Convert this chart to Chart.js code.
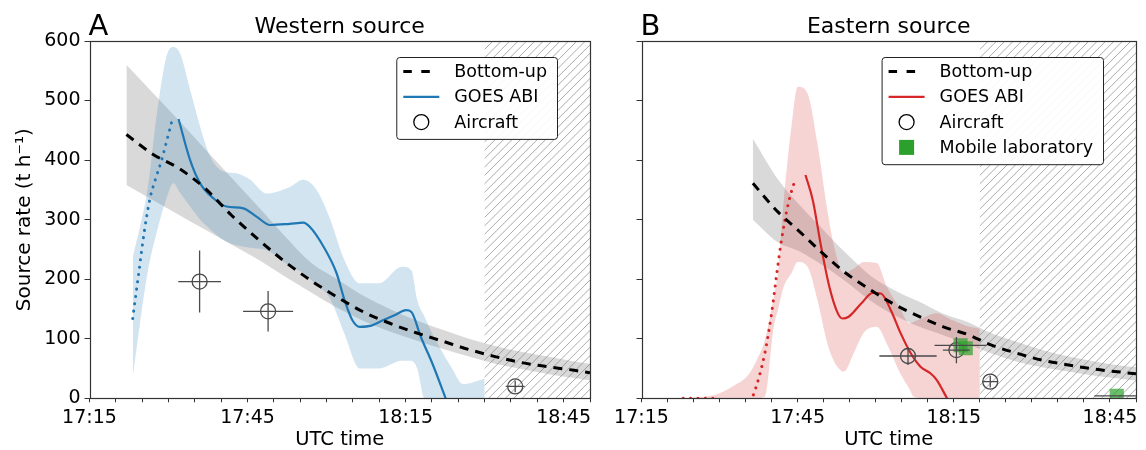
<!DOCTYPE html>
<html>
<head>
<meta charset="utf-8">
<script src="https://cdn.jsdelivr.net/npm/chart.js@4.4.1/dist/chart.umd.min.js"></script>
<style>
  html, body { margin: 0; padding: 0; background: #fff; }
  #wrap { position: relative; width: 1146px; height: 450px; }
  #boxA { position: absolute; left: 0; top: 0; }
  #boxB { position: absolute; left: 600px; top: 0; }
</style>
</head>
<body>
<div id="wrap">
  <div id="boxA"><canvas id="chartA" width="600" height="450"></canvas></div>
  <div id="boxB"><canvas id="chartB" width="546" height="450"></canvas></div>
</div>
<script>
// times are minutes after 17:15 UTC, rates in t/h
const xTickLabels = ['17:15', '17:45', '18:15', '18:45'];

// ---- A: western source
const bottomUpTimesA = [7, 12, 17, 22, 27, 32, 37, 42, 47, 52, 57, 62, 67, 72, 77, 82, 87, 92, 95];
const bottomUpA   = [443, 410, 386, 352, 307, 267, 230, 198, 170, 145, 126, 110, 96, 82, 70, 60, 53, 47, 43];
const bottomUpHiA = [560, 513, 466, 418, 370, 322, 273, 228, 200, 172, 150, 131, 115, 100, 88, 78, 70, 62, 58];
const bottomUpLoA = [358, 333, 308, 283, 258, 233, 205, 178, 152, 130, 112, 97, 83, 70, 58, 49, 41, 34, 30];

const goesBandTimesA = [8.2, 9.5, 11, 12.8, 14.6, 15.9, 17.2, 19.1, 21, 22.9, 25.4, 27.9, 30.5, 33.6, 38, 40.6, 43.1, 45.5, 48.4, 51.3, 54.9, 59.3, 61.1, 62.2, 63.6, 65.1, 68.7, 70.9, 75];
const goesHiA = [237, 285, 350, 479, 574, 590, 579, 518, 456, 406, 381, 378, 367, 344, 355, 367, 350, 305, 232, 193, 193, 221, 215, 165, 137, 108, 52, 24, 33];
const goesLoA = [35, 120, 210, 280, 335, 361, 345, 322, 300, 284, 266, 257, 253, 249, 222, 210, 190, 170, 108, 50, 50, 63, 63, 50, 0, 0, 0, 0, 0];

const goesTimesA = [16.9, 19.1, 21, 23.5, 26, 29.2, 31.7, 34.3, 38, 40.6, 41.8, 44.4, 46.9, 48.4, 49.9, 51.3, 53.5, 55.7, 58, 60.1, 61.1, 62.9, 65.1, 67.6];
const goesA = [469, 400, 361, 336, 322, 319, 305, 291, 293, 295, 288, 255, 210, 165, 131, 120, 122, 131, 140, 148, 145, 103, 58, 0];
const goesEarlyTimesA = [8.2, 9.3, 10.4, 11.5, 12.6, 13.7, 14.8, 15.9];
const goesEarlyA = [134, 207, 280, 336, 370, 400, 437, 474];

const aircraftTimesA = [20.9, 33.9, 80.8];
const aircraftA = [196, 146, 20];
const aircraftTimeErrA = [4.05, 4.75, 1.8];
const aircraftErrA = [52, 34, 10];

// ---- B: eastern source
const bottomUpTimesB = [21.4, 26.2, 30, 34.5, 39, 44, 48.5, 53.4, 58, 63, 67, 72, 77, 82, 87, 92, 95];
const bottomUpB   = [361, 313, 283, 246, 212, 182, 158, 137, 120, 106, 90, 76, 64, 56, 49, 44, 41];
const bottomUpHiB = [436, 368, 328, 287, 246, 206, 182, 162, 142, 127, 110, 95, 81, 70, 62, 55, 52];
const bottomUpLoB = [300, 262, 248, 225, 198, 164, 140, 120, 106, 90, 76, 62, 52, 45, 38, 33, 30];

const goesBandTimesB = [7.9, 11, 14.2, 17.5, 20.5, 22.2, 23.7, 25.4, 26.2, 27.3, 28.8, 30, 31.9, 33.8, 35.7, 37, 38.9, 40.8, 42.7, 45.2, 47.1, 49.7, 51.5, 52.2, 54, 56.6, 59.8, 63, 65];
const goesHiB = [0, 2, 6, 20, 39, 65, 98, 170, 210, 330, 456, 523, 512, 428, 316, 255, 210, 218, 229, 227, 188, 150, 126, 128, 135, 143, 131, 120, 117];
const goesLoB = [0, 0, 0, 0, 0, 0, 3, 120, 148, 187, 210, 229, 221, 165, 92, 62, 45, 76, 110, 120, 92, 42, 15, 3, 0, 0, 0, 0, 0];

const goesTimesB = [31.5, 32.9, 34.5, 36.1, 37.7, 38.6, 39.8, 42.3, 44.4, 46, 47.9, 49.8, 51.7, 53.6, 55.5, 56.7, 58.7];
const goesB = [375, 333, 255, 187, 143, 134, 137, 160, 177, 176, 148, 109, 76, 53, 42, 31, 0];
const goesEarlyTimesB = [8, 10, 12, 14.5, 17, 19.5, 21.5, 23.7, 25, 26, 26.9, 28.2, 29.5];
const goesEarlyB = [0, 0, 0, 0, -25, -25, 6, 76, 143, 210, 266, 327, 367];

const aircraftTimesB = [51.2, 60.5, 67];
const aircraftB = [71, 81, 28];
const aircraftTimeErrB = [5.5, 2.6, 1.5];
const aircraftErrB = [15, 22, 10];

const mobileTimesB = [61.3, 62.3, 91.3];
const mobileB = [89, 84, 4];
const mobileTimeErrB = [5, 0, 4.3];

const FONT = "'DejaVu Sans', sans-serif";
Chart.defaults.font.family = FONT;
Chart.defaults.font.size = 19;
Chart.defaults.color = '#000';

const BLUE = '#1f77b4', RED = '#d62728', GREEN = '#2ca02c', MARK = '#4a4a4a';

function pts(xs, ys) {
  return xs.map((x, i) => ({ x: x, y: ys[i] }));
}

// hatch, error bars, frame, legend and titles
const panelDecor = {
  id: 'panelDecor',
  beforeDatasetsDraw(chart, args, o) {
    const ctx = chart.ctx, a = chart.chartArea;
    const x0 = chart.scales.x.getPixelForValue(o.hatchFrom);
    const h = a.bottom - a.top;
    ctx.save();
    ctx.beginPath();
    ctx.rect(x0, a.top, a.right - x0, h);
    ctx.clip();
    ctx.strokeStyle = '#aaaaaa';
    ctx.lineWidth = 1;
    ctx.beginPath();
    for (let px = x0 - h; px < a.right; px += 8.4) {
      ctx.moveTo(px, a.bottom);
      ctx.lineTo(px + h, a.top);
    }
    ctx.stroke();
    ctx.restore();
  },
  afterDatasetsDraw(chart, args, o) {
    const ctx = chart.ctx, a = chart.chartArea;
    const sx = chart.scales.x, sy = chart.scales.y;
    ctx.save();
    ctx.beginPath();
    ctx.rect(a.left, a.top, a.right - a.left, a.bottom - a.top);
    ctx.clip();
    ctx.strokeStyle = MARK;
    ctx.lineWidth = 1.3;
    o.errorBars.forEach(set => {
      set.xs.forEach((t, i) => {
        const v = set.ys[i];
        ctx.beginPath();
        if (set.xerr[i]) {
          ctx.moveTo(sx.getPixelForValue(t - set.xerr[i]), sy.getPixelForValue(v));
          ctx.lineTo(sx.getPixelForValue(t + set.xerr[i]), sy.getPixelForValue(v));
        }
        if (set.yerr && set.yerr[i]) {
          ctx.moveTo(sx.getPixelForValue(t), sy.getPixelForValue(v - set.yerr[i]));
          ctx.lineTo(sx.getPixelForValue(t), sy.getPixelForValue(v + set.yerr[i]));
        }
        ctx.stroke();
      });
    });
    ctx.restore();
    // frame
    ctx.save();
    ctx.strokeStyle = '#333';
    ctx.lineWidth = 1.2;
    ctx.strokeRect(Math.round(a.left) + 0.5, Math.round(a.top) + 0.5,
      Math.round(a.right - a.left) - 1, Math.round(a.bottom - a.top));
    ctx.restore();
  },
  afterDraw(chart, args, o) {
    const ctx = chart.ctx, a = chart.chartArea;
    ctx.save();
    // titles
    ctx.fillStyle = '#000';
    ctx.textAlign = 'center';
    ctx.textBaseline = 'alphabetic';
    ctx.font = '22px ' + FONT;
    ctx.fillText(o.title, (a.left + a.right) / 2, 33);
    ctx.textAlign = 'left';
    ctx.font = '29px ' + FONT;
    ctx.fillText(o.letter, a.left - 1, 35);

    // legend
    ctx.font = '17.5px ' + FONT;
    const items = o.legend;
    const tw = Math.max(...items.map(it => ctx.measureText(it.label).width));
    const rowH = 25.3;
    const w = 58 + tw + 10;
    const h = items.length * rowH + 6;
    const right = a.right - 33, left = right - w, top = a.top + 16;
    ctx.beginPath();
    ctx.roundRect(left + 0.5, top + 0.5, w, h, 3);
    ctx.fillStyle = 'rgba(255,255,255,0.92)';
    ctx.fill();
    ctx.strokeStyle = '#222';
    ctx.lineWidth = 1;
    ctx.stroke();
    items.forEach((it, i) => {
      const cy = top + 14.5 + i * rowH;
      const l0 = left + 7, l1 = left + 43, mid = (l0 + l1) / 2;
      ctx.save();
      if (it.kind === 'dash' || it.kind === 'line') {
        ctx.beginPath();
        ctx.strokeStyle = it.color;
        ctx.lineWidth = it.kind === 'dash' ? 3 : 2.2;
        ctx.setLineDash(it.kind === 'dash' ? [8.5, 9.5] : []);
        ctx.moveTo(l0, cy);
        ctx.lineTo(l1, cy);
        ctx.stroke();
      } else if (it.kind === 'circle') {
        ctx.beginPath();
        ctx.strokeStyle = '#000';
        ctx.lineWidth = 1.3;
        ctx.arc(mid, cy, 7.5, 0, Math.PI * 2);
        ctx.stroke();
      } else if (it.kind === 'square') {
        ctx.fillStyle = GREEN;
        ctx.fillRect(mid - 7.5, cy - 7.5, 15, 15);
      }
      ctx.restore();
      ctx.fillStyle = '#000';
      ctx.textAlign = 'left';
      ctx.textBaseline = 'middle';
      ctx.fillText(it.label, left + 58, cy + 1);
    });
    ctx.restore();
  }
};

function makeChart(id, p) {
  const datasets = [
    { // bottom-up band lower edge
      data: pts(p.buTimes, p.buLo), borderWidth: 0, pointRadius: 0, fill: false,
      cubicInterpolationMode: 'monotone', order: 10
    },
    {
      data: pts(p.buTimes, p.buHi), borderWidth: 0, pointRadius: 0, fill: '-1',
      backgroundColor: 'rgba(128,128,128,0.3)', cubicInterpolationMode: 'monotone', order: 10
    },
    { // satellite band
      data: pts(p.bandTimes, p.bandLo), borderWidth: 0, pointRadius: 0, fill: false,
      cubicInterpolationMode: 'monotone', order: 9
    },
    {
      data: pts(p.bandTimes, p.bandHi), borderWidth: 0, pointRadius: 0, fill: '-1',
      backgroundColor: p.bandColor, cubicInterpolationMode: 'monotone', order: 9
    },
    {
      data: pts(p.earlyTimes, p.early), borderColor: p.color, borderWidth: 3, pointRadius: 0,
      borderDash: [0.1, 7.3], borderCapStyle: 'round', cubicInterpolationMode: 'monotone', order: 5
    },
    {
      data: pts(p.goesTimes, p.goes), borderColor: p.color, borderWidth: 2.2, pointRadius: 0,
      cubicInterpolationMode: 'monotone', order: 4
    },
    {
      data: pts(p.buTimes, p.bu), borderColor: '#000', borderWidth: 3, pointRadius: 0,
      borderDash: [9, 7], cubicInterpolationMode: 'monotone', order: 3
    },
    {
      type: 'scatter', data: pts(p.acTimes, p.ac), pointStyle: 'circle', pointRadius: 7.5,
      borderColor: MARK, borderWidth: 1.3, backgroundColor: 'rgba(0,0,0,0)', order: 2
    }
  ];
  if (p.mlTimes) {
    datasets.push({
      type: 'scatter', data: pts(p.mlTimes, p.ml), pointStyle: 'rect', pointRadius: 10,
      backgroundColor: 'rgba(44,160,44,0.7)', borderWidth: 0, clip: 0, order: 1
    });
  }
  return new Chart(document.getElementById(id), {
    type: 'line',
    data: { datasets: datasets },
    plugins: [panelDecor],
    options: {
      responsive: false,
      animation: false,
      devicePixelRatio: 1,
      events: [],
      layout: { padding: { top: 41, right: p.padRight, left: 0, bottom: 0 } },
      scales: {
        x: {
          type: 'linear', min: 0, max: 95,
          border: { display: false },
          grid: { drawOnChartArea: false, drawTicks: true, tickLength: 4, color: '#333' },
          ticks: {
            stepSize: 5, autoSkip: false, maxRotation: 0, padding: 4,
            callback: v => (v % 30 === 0 ? xTickLabels[v / 30] : '')
          },
          title: {
            display: true, text: 'UTC time', font: { size: 19.5, lineHeight: 1 },
            padding: { top: 0, bottom: 0 }
          },
          afterFit: s => { s.height = 51.7; }
        },
        y: {
          min: 0, max: 600,
          border: { display: false },
          grid: { drawOnChartArea: false, drawTicks: true, tickLength: 5, color: '#333' },
          ticks: {
            stepSize: 100, padding: 4,
            callback: v => (p.yLabels ? String(v) : '')
          },
          title: {
            display: p.yLabels, text: 'Source rate (t h⁻¹)', font: { size: 20 },
            padding: { top: 13, bottom: 0 }
          },
          afterFit: s => { s.width = p.yWidth; }
        }
      },
      plugins: {
        legend: { display: false },
        tooltip: { enabled: false },
        panelDecor: {
          title: p.title, letter: p.letter, hatchFrom: p.hatchFrom,
          legend: p.legend, errorBars: p.errorBars
        }
      }
    }
  });
}

makeChart('chartA', {
  title: 'Western source', letter: 'A', hatchFrom: 75, padRight: 10, yWidth: 89.5, yLabels: true,
  buTimes: bottomUpTimesA, bu: bottomUpA, buHi: bottomUpHiA, buLo: bottomUpLoA,
  bandTimes: goesBandTimesA, bandHi: goesHiA, bandLo: goesLoA, bandColor: 'rgba(31,119,180,0.2)',
  goesTimes: goesTimesA, goes: goesA, earlyTimes: goesEarlyTimesA, early: goesEarlyA, color: BLUE,
  acTimes: aircraftTimesA, ac: aircraftA,
  errorBars: [{ xs: aircraftTimesA, ys: aircraftA, xerr: aircraftTimeErrA, yerr: aircraftErrA }],
  legend: [
    { kind: 'dash', color: '#000', label: 'Bottom-up' },
    { kind: 'line', color: BLUE, label: 'GOES ABI' },
    { kind: 'circle', label: 'Aircraft' }
  ]
});

makeChart('chartB', {
  title: 'Eastern source', letter: 'B', hatchFrom: 65, padRight: 3, yWidth: 41.5, yLabels: false,
  buTimes: bottomUpTimesB, bu: bottomUpB, buHi: bottomUpHiB, buLo: bottomUpLoB,
  bandTimes: goesBandTimesB, bandHi: goesHiB, bandLo: goesLoB, bandColor: 'rgba(214,39,40,0.2)',
  goesTimes: goesTimesB, goes: goesB, earlyTimes: goesEarlyTimesB, early: goesEarlyB, color: RED,
  acTimes: aircraftTimesB, ac: aircraftB,
  mlTimes: mobileTimesB, ml: mobileB,
  errorBars: [
    { xs: aircraftTimesB, ys: aircraftB, xerr: aircraftTimeErrB, yerr: aircraftErrB },
    { xs: mobileTimesB, ys: mobileB, xerr: mobileTimeErrB }
  ],
  legend: [
    { kind: 'dash', color: '#000', label: 'Bottom-up' },
    { kind: 'line', color: RED, label: 'GOES ABI' },
    { kind: 'circle', label: 'Aircraft' },
    { kind: 'square', label: 'Mobile laboratory' }
  ]
});
</script>
</body>
</html>
